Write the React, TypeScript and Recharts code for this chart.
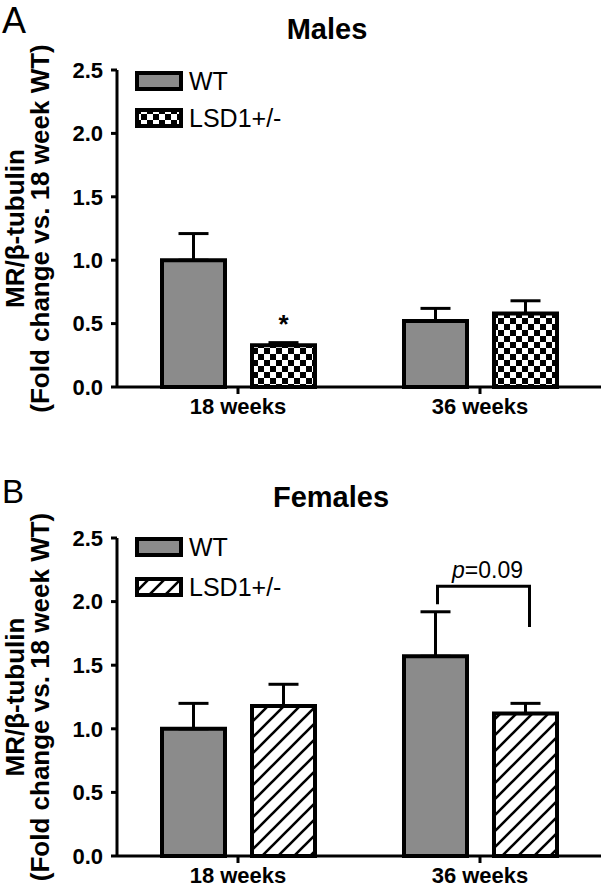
import React from 'react';
import { BarChart, Bar, XAxis, YAxis, ErrorBar, Legend, LabelList } from 'recharts';

const FONT = '"Liberation Sans", Arial, sans-serif';
const GRAY = '#8b8b8b';
const BAR_SIZE = 63;
const BAR_GAP = 27;

// shared axes
const categories = ['18 weeks', '36 weeks'];
const yTicks = [0, 0.5, 1.0, 1.5, 2.0, 2.5];
const seriesOrder = ['wt', 'lsd'];

// panel A - males
const maleWT = [1.0, 0.52];
const maleWTSem = [0.21, 0.1];
const maleLSD = [0.33, 0.58];
const maleLSDSem = [0.02, 0.1];
const maleMarks = ['*', ''];

// panel B - females
const femaleWT = [1.0, 1.57];
const femaleWTSem = [0.2, 0.35];
const femaleLSD = [1.18, 1.12];
const femaleLSDSem = [0.17, 0.08];
const femaleMarks = ['', 'p=0.09'];
const femaleBracket = { top: 2.12, leftEnd: 1.98, rightEnd: 1.8 };

const buildRows = (wt: number[], wtSem: number[], lsd: number[], lsdSem: number[], marks: string[]) =>
  categories.map((cat, i) => ({
    cat,
    wt: wt[i],
    wtErr: [0, wtSem[i]],
    lsd: lsd[i],
    lsdErr: [0, lsdSem[i]],
    mark: marks[i],
  }));

const maleRows = buildRows(maleWT, maleWTSem, maleLSD, maleLSDSem, maleMarks);
const femaleRows = buildRows(femaleWT, femaleWTSem, femaleLSD, femaleLSDSem, femaleMarks);

const axisStroke = { stroke: '#000', strokeWidth: 3 };

function YTitle(props: any) {
  const vb = props.viewBox || {};
  const cy = vb.y + vb.height / 2;
  const style = { fontFamily: FONT, fontSize: 26, fontWeight: 'bold' as const, fill: '#000' };
  return (
    <g>
      <text transform={`translate(15, ${cy}) rotate(-90)`} textAnchor="middle" dominantBaseline="central" style={style}>
        MR/β-tubulin
      </text>
      <text transform={`translate(40, ${cy}) rotate(-90)`} textAnchor="middle" dominantBaseline="central" style={style}>
        (Fold change vs. 18 week WT)
      </text>
    </g>
  );
}

const makeMarkRenderer = (marks: string[], bracket?: { top: number; leftEnd: number; rightEnd: number }) => (props: any) => {
  const vb = props.viewBox && props.viewBox.width != null ? props.viewBox : props;
  const x = Number(vb.x);
  const y = Number(vb.y);
  const w = Number(vb.width);
  const h = Number(vb.height);
  const idx = props.index != null ? props.index : categories.indexOf(props.payload?.cat);
  const mark = marks[idx] || props.payload?.mark;
  if (!mark) return null;
  if (mark === '*') {
    return (
      <text x={x + w / 2} y={y - 12} textAnchor="middle" style={{ fontFamily: FONT, fontSize: 26, fontWeight: 'bold', fill: '#000' }}>
        *
      </text>
    );
  }
  if (!bracket) return null;
  const value = Number(props.value);
  const base = y + h;
  const ppu = h / value;
  const toY = (v: number) => base - v * ppu;
  const rightX = x + w / 2 + 4;
  const leftX = x - BAR_GAP - w / 2 + 2;
  const topY = toY(bracket.top);
  return (
    <g>
      <path
        d={`M${leftX},${toY(bracket.leftEnd)} L${leftX},${topY} L${rightX},${topY} L${rightX},${toY(bracket.rightEnd)}`}
        fill="none"
        stroke="#000"
        strokeWidth={3}
      />
      <text x={(leftX + rightX) / 2 + 4} y={topY - 8} textAnchor="middle" style={{ fontFamily: FONT, fontSize: 23, fill: '#000' }}>
        <tspan fontStyle="italic">p</tspan>
        {mark.slice(1)}
      </text>
    </g>
  );
};

const makeLegend = (fills: Record<string, string>, rowGap: number) => (props: any) => {
  const items = [...(props.payload || [])].sort(
    (a: any, b: any) => seriesOrder.indexOf(a.dataKey) - seriesOrder.indexOf(b.dataKey)
  );
  return (
    <div style={{ display: 'flex', flexDirection: 'column', gap: rowGap, fontFamily: FONT }}>
      {items.map((entry: any) => (
        <div key={entry.value} style={{ display: 'flex', alignItems: 'center', height: 20 }}>
          <svg width={48} height={20} style={{ display: 'block' }}>
            <rect x={2} y={2} width={44} height={16} fill={fills[entry.dataKey] || entry.color} stroke="#000" strokeWidth={4} />
          </svg>
          <span style={{ marginLeft: 6, fontSize: 25, lineHeight: '25px', color: '#000' }}>{entry.value}</span>
        </div>
      ))}
    </div>
  );
};

type PanelProps = {
  rows: any[];
  lsdFill: string;
  marks: string[];
  bracket?: { top: number; leftEnd: number; rightEnd: number };
  top: number;
  bottom: number;
  legendTop: number;
  rowGap: number;
};

function Panel({ rows, lsdFill, marks, bracket, top, bottom, legendTop, rowGap }: PanelProps) {
  return (
    <BarChart width={605} height={446} data={rows} margin={{ top, right: 4, bottom, left: 0 }} barSize={BAR_SIZE} barGap={BAR_GAP}>
      <XAxis
        dataKey="cat"
        height={30}
        axisLine={axisStroke}
        tickLine={axisStroke}
        tickSize={7}
        tickMargin={4}
        tick={{ fill: '#000', fontSize: 22, fontWeight: 'bold', fontFamily: FONT }}
      />
      <YAxis
        domain={[0, 2.5]}
        ticks={yTicks}
        interval={0}
        width={117}
        tickFormatter={(v: number) => v.toFixed(1)}
        axisLine={axisStroke}
        tickLine={axisStroke}
        tickSize={6}
        tickMargin={8}
        tick={{ fill: '#000', fontSize: 22, fontWeight: 'bold', fontFamily: FONT }}
        label={{ content: YTitle }}
      />
      <Legend
        layout="vertical"
        align="center"
        verticalAlign="middle"
        wrapperStyle={{ left: 135, top: legendTop, width: 200 }}
        content={makeLegend({ wt: GRAY, lsd: lsdFill }, rowGap)}
      />
      <Bar dataKey="wt" name="WT" fill={GRAY} stroke="#000" strokeWidth={4} isAnimationActive={false}>
        <ErrorBar dataKey="wtErr" width={15} stroke="#000" strokeWidth={3} direction="y" isAnimationActive={false} />
      </Bar>
      <Bar dataKey="lsd" name="LSD1+/-" fill={lsdFill} stroke="#000" strokeWidth={4} isAnimationActive={false}>
        <ErrorBar dataKey="lsdErr" width={15} stroke="#000" strokeWidth={3} direction="y" isAnimationActive={false} />
        <LabelList dataKey="lsd" content={makeMarkRenderer(marks, bracket)} />
      </Bar>
    </BarChart>
  );
}

export default function App() {
  const titleStyle = { fontFamily: FONT, fontSize: 29, fontWeight: 'bold' as const, fill: '#000' };
  return (
    <div style={{ position: 'absolute', left: 0, top: 0, width: 605, height: 892, background: '#fff' }}>
      <svg width={0} height={0} style={{ position: 'absolute' }}>
        <defs>
          <pattern id="checker" width={12} height={12} patternUnits="userSpaceOnUse">
            <rect width={12} height={12} fill="#fff" />
            <rect x={0} y={0} width={6} height={6} fill="#000" />
            <rect x={6} y={6} width={6} height={6} fill="#000" />
          </pattern>
          <pattern id="hatch" width={16} height={16} patternUnits="userSpaceOnUse">
            <rect width={16} height={16} fill="#fff" />
            <path d="M0,16 L16,0 M-4,4 L4,-4 M12,20 L20,12" stroke="#000" strokeWidth={2.6} />
          </pattern>
        </defs>
      </svg>
      <div style={{ position: 'absolute', left: 0, top: 0 }}>
        <Panel rows={maleRows} lsdFill="url(#checker)" marks={maleMarks} top={70} bottom={29} legendTop={71} rowGap={17} />
      </div>
      <div style={{ position: 'absolute', left: 0, top: 446 }}>
        <Panel
          rows={femaleRows}
          lsdFill="url(#hatch)"
          marks={femaleMarks}
          bracket={femaleBracket}
          top={92}
          bottom={6}
          legendTop={91}
          rowGap={20}
        />
      </div>
      <svg width={605} height={892} style={{ position: 'absolute', left: 0, top: 0, pointerEvents: 'none' }}>
        <text x={2} y={33} style={{ fontFamily: FONT, fontSize: 36, fill: '#000' }}>A</text>
        <text x={327} y={39} textAnchor="middle" style={titleStyle}>Males</text>
        <text x={2} y={503} style={{ fontFamily: FONT, fontSize: 33, fill: '#000' }}>B</text>
        <text x={331} y={507} textAnchor="middle" style={titleStyle}>Females</text>
      </svg>
    </div>
  );
}
